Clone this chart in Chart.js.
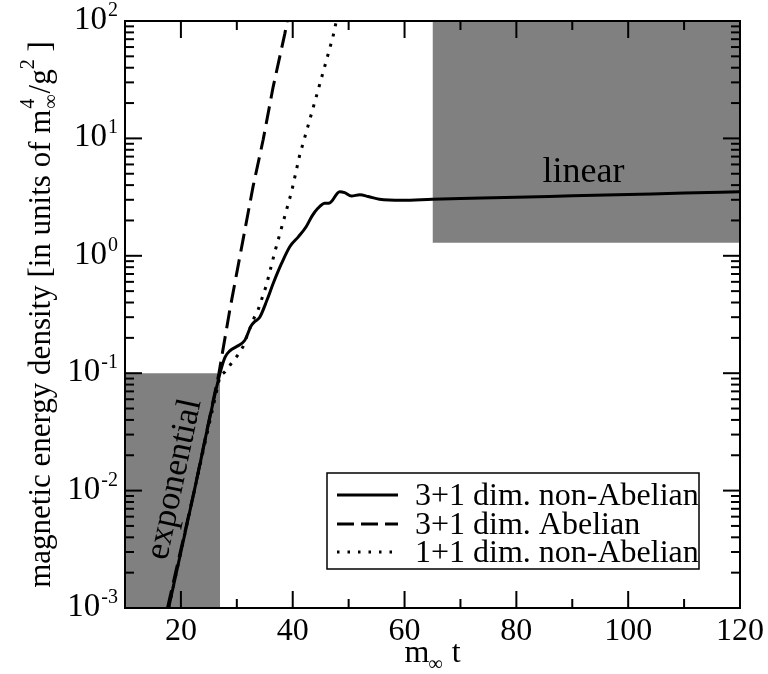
<!DOCTYPE html>
<html><head><meta charset="utf-8">
<script src="https://cdn.jsdelivr.net/npm/chart.js@4/dist/chart.umd.min.js"></script>
<style>html,body{margin:0;padding:0;background:#fff;}#wrap{width:768px;height:674px;}</style>
</head><body><div id="wrap"><canvas id="c" width="768" height="674"></canvas></div>
<script>
// ---- data ----
const tSolid = [17.8,22.4,27.0,27.9,28.75,29.9,31.4,32.6,33.2,34.1,35.4,36.5,38.0,39.5,41.0,42.4,43.5,44.5,45.7,46.6,48.4,49.3,50.5,52.0,53.5,55.5,59.6,65,70,80,90,100,110,120];
const eSolid = [0.001,0.01,0.1,0.137,0.155,0.168,0.19,0.255,0.275,0.30,0.42,0.58,0.86,1.2,1.45,1.77,2.2,2.54,2.8,2.82,3.52,3.45,3.23,3.31,3.2,3.03,2.97,3.03,3.07,3.15,3.24,3.33,3.42,3.52];
const tDashed = [17.6,22.4,26.8,28.75,31.1,32.9,34.7,36.5,38.6,39.0];
const eDashed = [0.001,0.01,0.1,0.347,1.36,3.88,9.68,27.5,78.5,100];
const tDotted = [17.8,22.4,27.0,27.9,29.0,30.2,31.1,32.9,33.8,35.3,36.8,38.3,39.8,41.25,42.7,44.2,45.7,47.2,47.8];
const eDotted = [0.001,0.01,0.095,0.103,0.121,0.143,0.168,0.284,0.345,0.564,1.08,1.95,3.52,7.23,12.6,22.6,40.7,73.5,100];
const seriesNames = ['3+1 dim. non-Abelian','3+1 dim. Abelian','1+1 dim. non-Abelian'];
const expBoxT = [10,27];   const expBoxTop = 0.1;
const linBoxT = [65,120];  const linBoxBottom = 1.29;
const xMajor = [20,40,60,80,100,120];
const xMinor = [30,50,70,90,110];
const yTickExps = [-3,-2,-1,0,1,2];
const yMinorMult = [2,3,4,5,6,7,8,9];
const labelLinear = {t:92, v:5.1, text:'linear'};
const labelExp = {t:18.9, v:0.0125, text:'exponential'};

const pts = (t,e)=>t.map((v,i)=>({x:v,y:e[i]}));
const SERIF = '"Liberation Serif","Times New Roman",serif';
Chart.defaults.font.family = SERIF;

const decor = {
  id:'decor',
  afterDatasetsDraw(chart){
    const {ctx, chartArea:a, scales:{x, y}} = chart;
    ctx.save();
    ctx.fillStyle = '#000'; ctx.strokeStyle = '#000';
    // annotations
    ctx.font = '36px '+SERIF; ctx.textAlign='center'; ctx.textBaseline='middle';
    ctx.fillText(labelLinear.text, x.getPixelForValue(labelLinear.t), y.getPixelForValue(labelLinear.v));
    ctx.save();
    ctx.font = '35px '+SERIF;
    ctx.translate(x.getPixelForValue(labelExp.t), y.getPixelForValue(labelExp.v));
    ctx.rotate(-78*Math.PI/180);
    ctx.fillText(labelExp.text, 0, 0);
    ctx.restore();
    // ticks (inward, on all four sides)
    ctx.lineWidth = 2;
    const seg=(x1,y1,x2,y2)=>{ctx.beginPath();ctx.moveTo(x1,y1);ctx.lineTo(x2,y2);ctx.stroke();};
    const MJ=17, MN=9;
    xMajor.forEach(v=>{const p=x.getPixelForValue(v); seg(p,a.bottom,p,a.bottom-MJ); seg(p,a.top,p,a.top+MJ);});
    xMinor.forEach(v=>{const p=x.getPixelForValue(v); seg(p,a.bottom,p,a.bottom-MN); seg(p,a.top,p,a.top+MN);});
    yTickExps.forEach(e=>{
      const p=y.getPixelForValue(Math.pow(10,e)); seg(a.left,p,a.left+MJ,p); seg(a.right,p,a.right-MJ,p);
      if(e<2) yMinorMult.forEach(m=>{const q=y.getPixelForValue(m*Math.pow(10,e)); seg(a.left,q,a.left+MN,q); seg(a.right,q,a.right-MN,q);});
    });
    // frame
    ctx.lineWidth = 2;
    ctx.strokeRect(a.left, a.top, a.right-a.left, a.bottom-a.top);
    // y tick labels 10^n
    ctx.textAlign='left'; ctx.textBaseline='alphabetic';
    const baseF='33px '+SERIF, supF='20px '+SERIF;
    yTickExps.forEach(e=>{
      const p=y.getPixelForValue(Math.pow(10,e));
      const sup = e<0 ? '-'+(-e) : String(e);
      ctx.font=supF; const ws=ctx.measureText(sup).width;
      ctx.font=baseF; const wb=ctx.measureText('10').width;
      const right=118;
      ctx.fillText('10', right-ws-1-wb, p+8);
      ctx.font=supF; ctx.fillText(sup, right-ws, p-5);
    });
    // y axis title
    const parts=[
      {t:'magnetic energy density [in units of m', f:'31px', dy:0},
      {stack:[{t:'\u221E', f:'20px', dy:7},{t:'4', f:'20px', dy:-16}]},
      {t:'/g', f:'31px', dy:0},
      {t:'2', f:'20px', dy:-16},
      {t:' ]', f:'31px', dy:0}
    ];
    const wOf=(p)=>{ctx.font=p.f+' '+SERIF; return ctx.measureText(p.t).width;};
    let total=0; parts.forEach(p=>{ total += p.stack ? Math.max(...p.stack.map(wOf))+2 : wOf(p); });
    ctx.save();
    ctx.translate(50, (a.top+a.bottom)/2);
    ctx.rotate(-Math.PI/2);
    let cx=-total/2;
    parts.forEach(p=>{
      if(p.stack){ let w=0; p.stack.forEach(s=>{ctx.font=s.f+' '+SERIF; ctx.fillText(s.t,cx+1,s.dy); w=Math.max(w,ctx.measureText(s.t).width);}); cx+=w+2; }
      else { ctx.font=p.f+' '+SERIF; ctx.fillText(p.t,cx,p.dy); cx+=ctx.measureText(p.t).width; }
    });
    ctx.restore();
    // x axis title m_inf t
    ctx.font='32px '+SERIF;
    const wm=ctx.measureText('m').width;
    ctx.font='20px '+SERIF; const wi=ctx.measureText('\u221E').width;
    ctx.font='32px '+SERIF; const wt=ctx.measureText(' t').width;
    const xc=(a.left+a.right)/2; let sx=xc - (wm+wi+wt)/2;
    const by=662;
    ctx.fillText('m', sx, by); sx+=wm;
    ctx.font='20px '+SERIF; ctx.fillText('\u221E', sx-1, by+8); sx+=wi;
    ctx.font='32px '+SERIF; ctx.fillText(' t', sx, by);
    // legend
    const L={x:327,y:473,w:372,h:96};
    ctx.fillStyle='#fff'; ctx.fillRect(L.x,L.y,L.w,L.h);
    ctx.lineWidth=1.5; ctx.strokeStyle='#000'; ctx.strokeRect(L.x,L.y,L.w,L.h);
    const rows=[495,524,552];
    [0,1,2].forEach(i=>{
      const ds=chart.data.datasets[i];
      ctx.save();
      ctx.lineWidth=ds.borderWidth; ctx.setLineDash(ds.legendDash||[]); ctx.lineCap='butt';
      ctx.beginPath(); ctx.moveTo(337,rows[i]); ctx.lineTo(398,rows[i]); ctx.stroke();
      ctx.restore();
      ctx.fillStyle='#000'; ctx.font='32px '+SERIF; ctx.textAlign='left';
      ctx.fillText(seriesNames[i], 415, rows[i]+10);
    });
    ctx.restore();
  }
};

new Chart(document.getElementById('c'), {
  type:'line',
  data:{datasets:[
    {label:seriesNames[0], data:pts(tSolid,eSolid), borderColor:'#000', borderWidth:3, pointRadius:0, cubicInterpolationMode:'monotone', fill:false, order:1, legendDash:[]},
    {label:seriesNames[1], data:pts(tDashed,eDashed), borderColor:'#000', borderWidth:3, borderDash:[18,8], pointRadius:0, tension:0, fill:false, order:1, legendDash:[17,7]},
    {label:seriesNames[2], data:pts(tDotted,eDotted), borderColor:'#000', borderWidth:3, borderDash:[3,7.5], pointRadius:0, tension:0, fill:false, order:1, legendDash:[2.5,8]},
    {label:'exp box', data:expBoxT.map(t=>({x:t,y:expBoxTop})), borderWidth:0, borderColor:'rgba(0,0,0,0)', backgroundColor:'#808080', pointRadius:0, fill:'start', order:10},
    {label:'lin box', data:linBoxT.map(t=>({x:t,y:linBoxBottom})), borderWidth:0, borderColor:'rgba(0,0,0,0)', backgroundColor:'#808080', pointRadius:0, fill:'end', order:10}
  ]},
  options:{
    responsive:false, animation:false, devicePixelRatio:1,
    layout:{padding:{left:0,right:27,top:21,bottom:0}},
    plugins:{legend:{display:false}, tooltip:{enabled:false}},
    scales:{
      x:{type:'linear', min:10, max:120,
         afterBuildTicks:s=>{s.ticks=xMajor.map(v=>({value:v}));},
         afterFit:s=>{s.height=66;},
         grid:{display:false, drawTicks:false}, border:{display:false},
         ticks:{color:'#000', font:{size:32, family:SERIF}, padding:4, maxRotation:0, autoSkip:false}},
      y:{type:'logarithmic', min:0.001, max:100,
         afterFit:s=>{s.width=125;},
         grid:{display:false, drawTicks:false}, border:{display:false},
         ticks:{display:false}}
    }
  },
  plugins:[decor]
});
</script></body></html>
